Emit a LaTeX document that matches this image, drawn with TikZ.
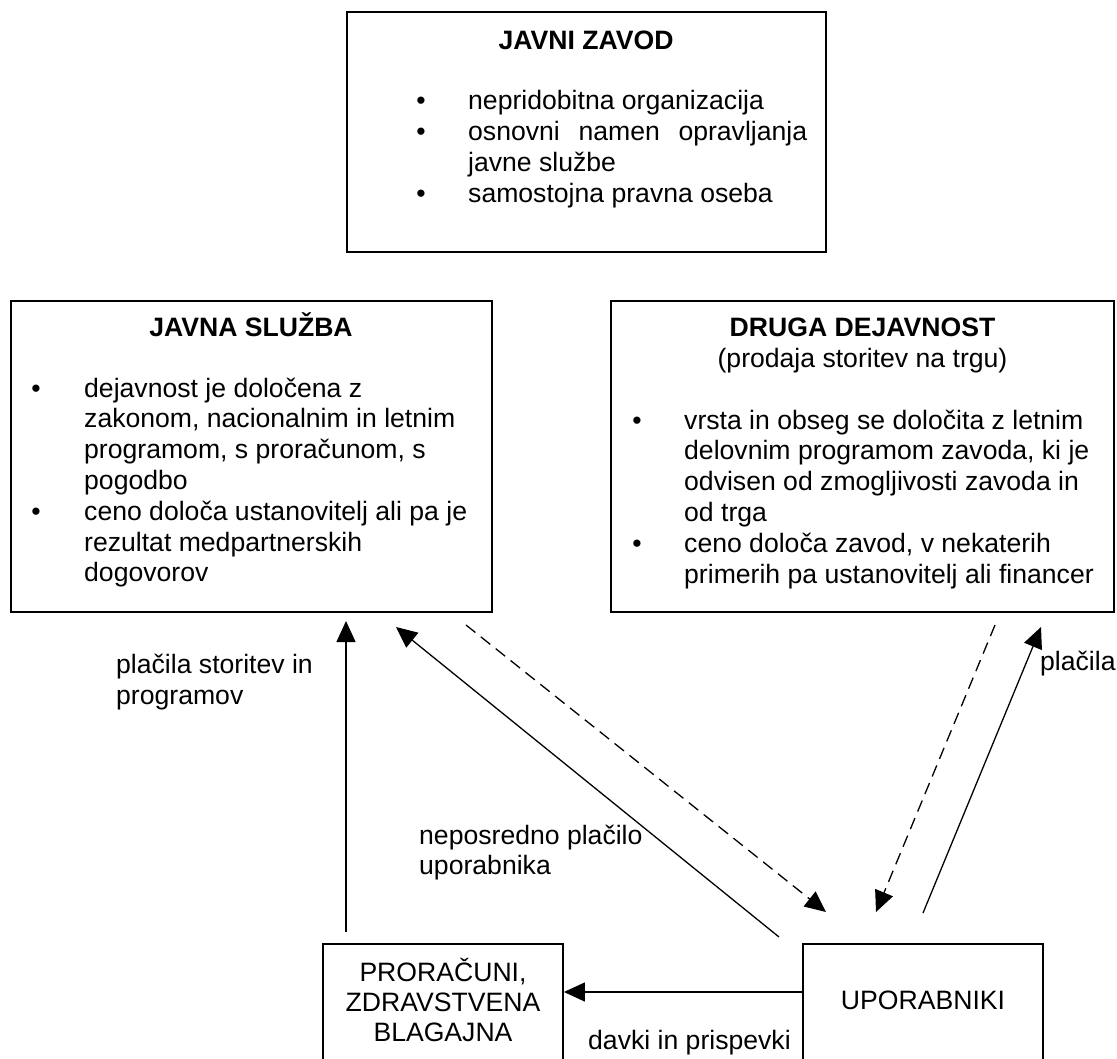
\documentclass[tikz,border=0pt]{standalone}
\usepackage{fontspec}
\setmainfont{Liberation Sans}
\usetikzlibrary{arrows.meta}
\newcommand\txtline[4]{\node[tx,anchor=base west] (#1) at (#2,#3) {#4};}
\newcommand\bulat[3]{\node[tx,anchor=base] (#1) at (#2,#3) {\textbullet};}
\begin{document}
\begin{tikzpicture}[x=1pt,y=-1pt,
  box/.style={draw, line width=1.8pt, inner sep=0pt},
  tx/.style={font=\fontsize{26.6}{30.8}\selectfont, inner sep=0pt},
  arr/.style={line width=1.3pt, -{Triangle[length=21pt,width=19pt]}},
  dsh/.style={arr, dash pattern=on 12pt off 7pt}]
\useasboundingbox (0,0) rectangle (1117,1059);
\clip (0,0) rectangle (1117,1059);
\fill[white] (0,0) rectangle (1117,1059);

% ---------- boxes ----------
\node[box, minimum width=479pt, minimum height=240pt] (jz) at (586.5,132) {};
\node[box, minimum width=481pt, minimum height=311pt] (js) at (251.5,456.5) {};
\node[box, minimum width=503pt, minimum height=311pt] (dd) at (862.5,456.5) {};
\node[box, minimum width=240pt, minimum height=146pt] (pr) at (443,1017) {};
\node[box, minimum width=240pt, minimum height=146pt] (up) at (923,1017) {};

% ---------- JAVNI ZAVOD ----------
\node[tx,anchor=base] (jzt) at (586,49.5) {\textbf{JAVNI ZAVOD}};
\bulat{jzb1}{421}{110}
\txtline{jz1}{468}{110}{nepridobitna organizacija}
\bulat{jzb2}{421}{141}
\txtline{jz2}{468}{141}{\hbox to 339pt{osnovni\hfill namen\hfill opravljanja}}
\txtline{jz3}{468}{172}{javne službe}
\bulat{jzb3}{421}{203}
\txtline{jz4}{468}{203}{samostojna pravna oseba}

% ---------- JAVNA SLUZBA ----------
\node[tx,anchor=base] (jst) at (251,336.5) {\textbf{JAVNA SLUŽBA}};
\bulat{jsb1}{36}{397}
\txtline{js1}{84}{397}{dejavnost je določena z}
\txtline{js2}{84}{427.8}{zakonom, nacionalnim in letnim}
\txtline{js3}{84}{458.6}{programom, s proračunom, s}
\txtline{js4}{84}{489.4}{pogodbo}
\bulat{jsb2}{36}{520.2}
\txtline{js5}{84}{520.2}{ceno določa ustanovitelj ali pa je}
\txtline{js6}{84}{551}{rezultat medpartnerskih}
\txtline{js7}{84}{581.8}{dogovorov}

% ---------- DRUGA DEJAVNOST ----------
\node[tx,anchor=base] (ddt) at (862.5,336.5) {\textbf{DRUGA DEJAVNOST}};
\node[tx,anchor=base] (dds) at (862.5,367) {(prodaja storitev na trgu)};
\bulat{ddb1}{637}{429}
\txtline{dd1}{684}{429}{vrsta in obseg se določita z letnim}
\txtline{dd2}{684}{459.8}{delovnim programom zavoda, ki je}
\txtline{dd3}{684}{490.6}{odvisen od zmogljivosti zavoda in}
\txtline{dd4}{684}{521.4}{od trga}
\bulat{ddb2}{637}{552.2}
\txtline{dd5}{684}{552.2}{ceno določa zavod, v nekaterih}
\txtline{dd6}{684}{583}{primerih pa ustanovitelj ali financer}

% ---------- bottom boxes text ----------
\node[tx,anchor=base] (pr1) at (443,981.5) {PRORAČUNI,};
\node[tx,anchor=base] (pr2) at (443,1011.5) {ZDRAVSTVENA};
\node[tx,anchor=base] (pr3) at (443,1041.5) {BLAGAJNA};
\node[tx,anchor=base] (up1) at (923,1009.5) {UPORABNIKI};

% ---------- labels ----------
\txtline{l1a}{116}{673}{plačila storitev in}
\txtline{l1b}{116}{704}{programov}
\txtline{l2}{1040}{670}{plačila}
\txtline{l3a}{419}{844}{neposredno plačilo}
\txtline{l3b}{419}{874}{uporabnika}
\txtline{l4}{588}{1049}{davki in prispevki}

% ---------- connector end points ----------
\coordinate (v0) at (346,932);
\coordinate (v1) at (346,621);
\coordinate (d0) at (779,937);
\coordinate (d1) at (396,627);
\coordinate (e0) at (466,625);
\coordinate (e1) at (826,912);
\coordinate (f0) at (995,625);
\coordinate (f1) at (876,912);
\coordinate (g0) at (923,913);
\coordinate (g1) at (1041,627);
\coordinate (hy) at (0,992);

% ---------- connectors ----------
\draw[arr] (v0) -- (v1);
\draw[arr] (d0) -- (d1);
\draw[dsh] (e0) -- (e1);
\draw[dsh] (f0) -- (f1);
\draw[arr] (g0) -- (g1);
\draw[arr] (up.west |- hy) -- (pr.east |- hy);
\end{tikzpicture}
\end{document}
